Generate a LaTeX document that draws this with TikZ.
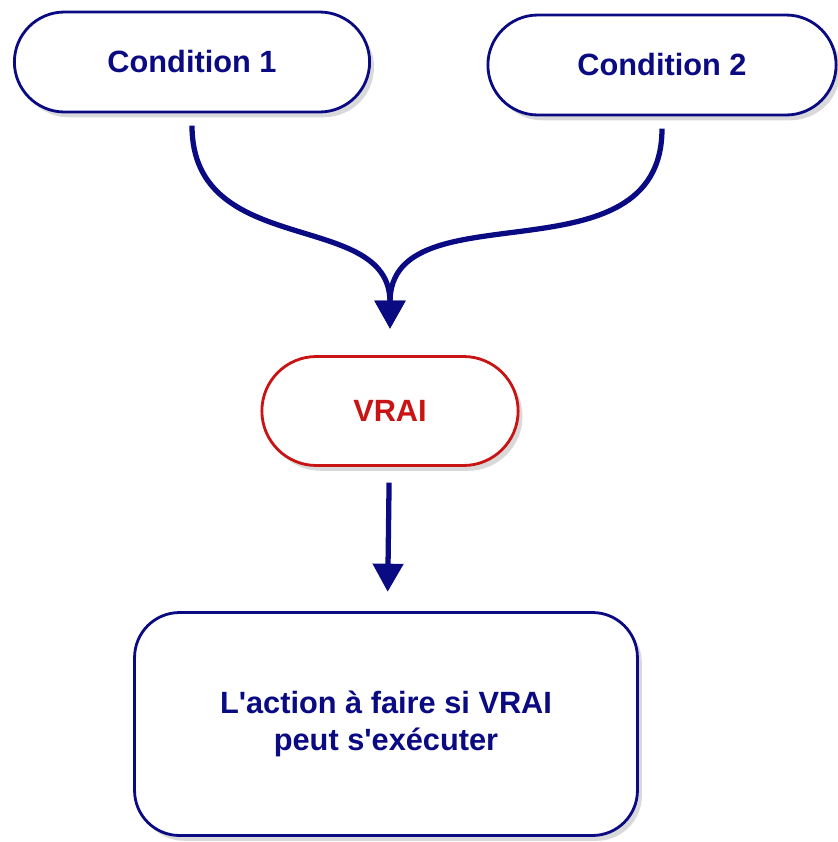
\documentclass[tikz,border=0pt]{standalone}
\usepackage{fontspec}
\setmainfont{Liberation Sans}
\usetikzlibrary{positioning,arrows.meta,shapes.misc,shadows}
\definecolor{navy}{RGB}{10,10,130}
\definecolor{vraired}{RGB}{200,20,20}

\begin{document}
\begin{tikzpicture}[x=0.02cm, y=-0.02cm,
    >={Triangle[width=17pt,length=16pt]},
    pill/.style={draw=navy, line width=1.6pt, fill=white, rounded rectangle,
      minimum height=2cm, text=navy, font=\fontsize{17.5}{21}\selectfont\bfseries,
      drop shadow={shadow xshift=2.5pt, shadow yshift=-3pt, opacity=0.3}},
    link/.style={->, draw=navy, line width=3pt}]
  \useasboundingbox (0,0) rectangle (838,842);
  \node[pill, minimum width=7.34cm] (cond1) at (192,62) {Condition 1};
  \node[pill, minimum width=7.2cm] (cond2) at (662,65) {Condition 2};
  \node[pill, draw=vraired, text=vraired, minimum width=5.36cm, minimum height=2.18cm] (vrai) at (390,411) {VRAI};
  \node[pill, rectangle, rounded corners=0.9cm, minimum width=10.06cm, minimum height=4.46cm, align=center] (action) at (386,724) {L\textquotesingle action à faire si VRAI\\peut s\textquotesingle exécuter};
  \draw[link, shorten <=7pt, shorten >=15pt] (cond1.south) to[out=-90, in=90, looseness=1.2] (vrai.north);
  \draw[link, shorten <=7pt, shorten >=15pt] (cond2.south) to[out=-90, in=90, looseness=1.2] (vrai.north);
  \draw[link, shorten <=9pt, shorten >=11pt] (vrai) -- (action);
\end{tikzpicture}
\end{document}
